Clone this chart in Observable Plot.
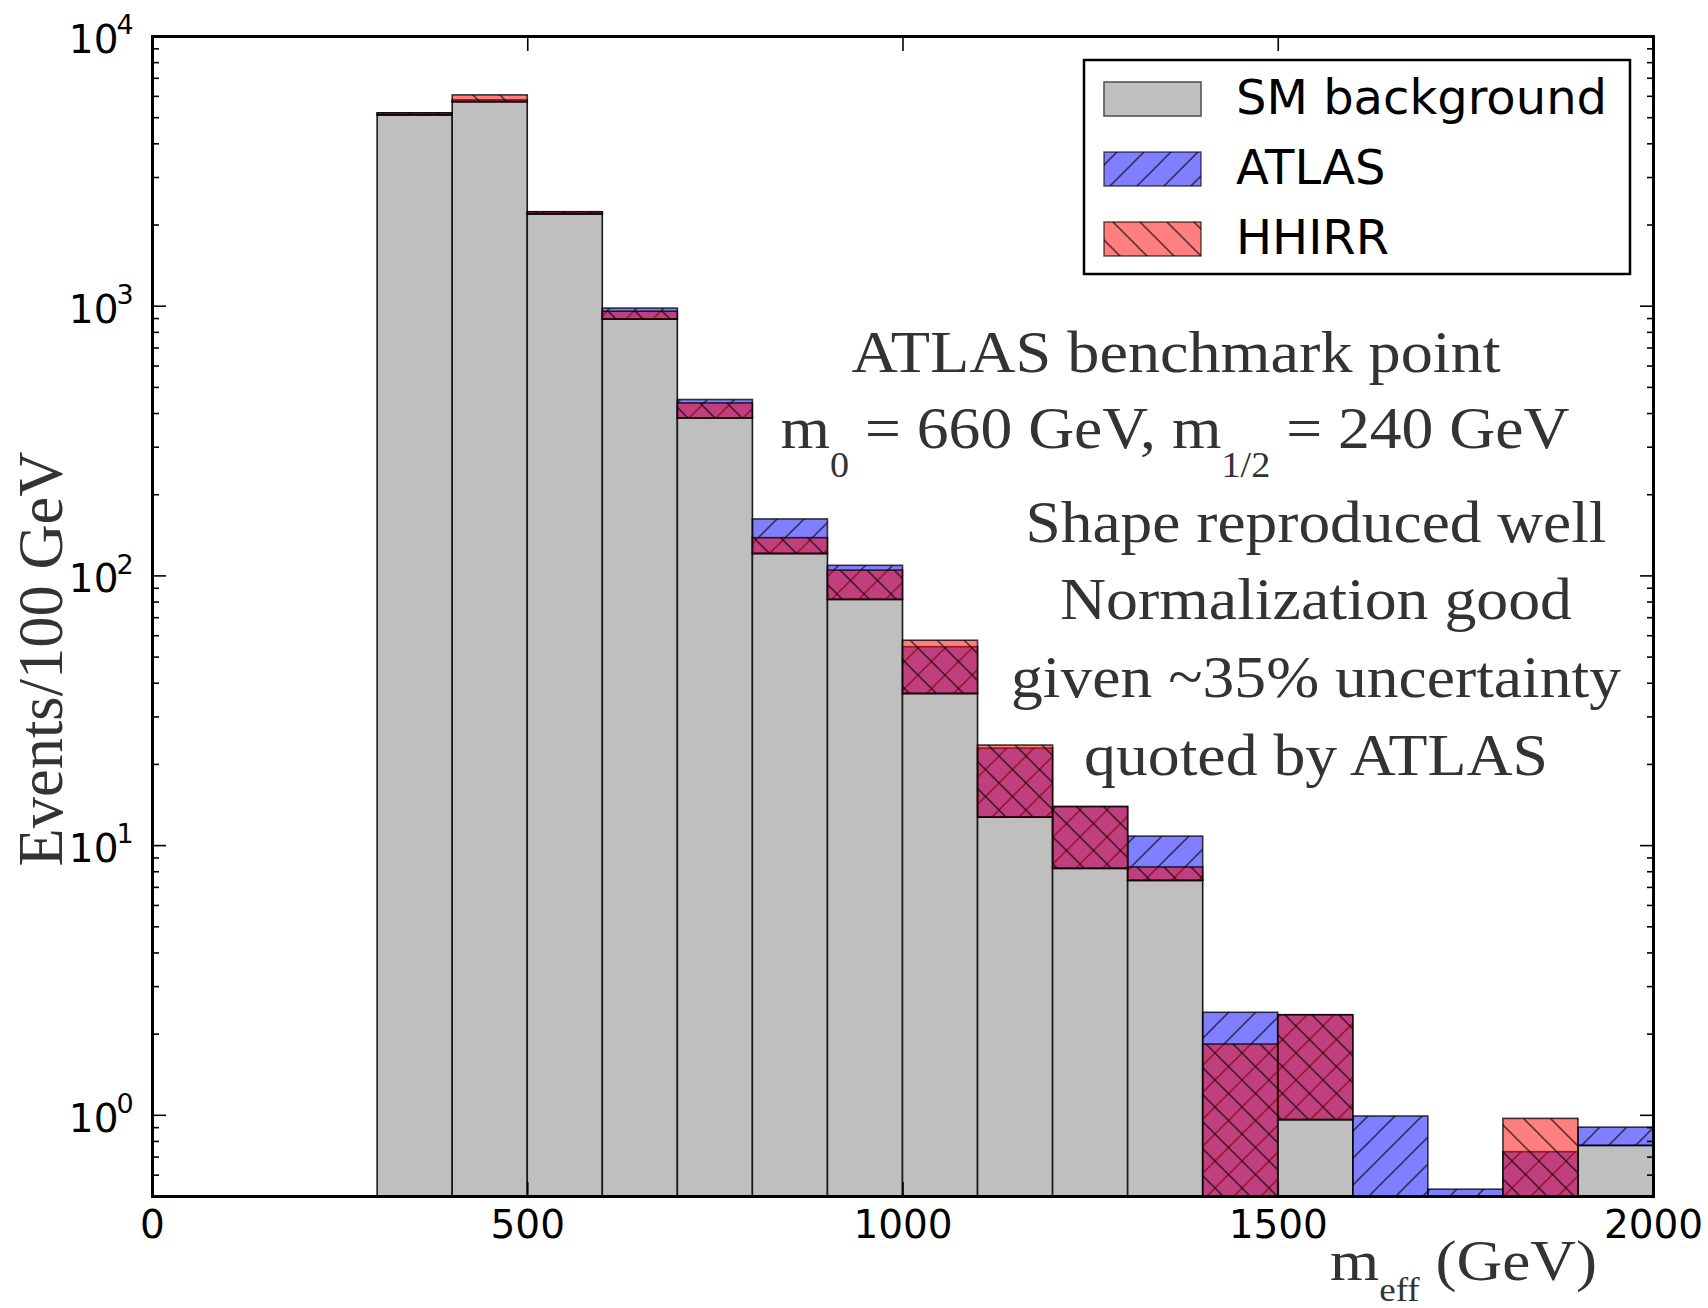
<!DOCTYPE html>
<html>
<head>
<meta charset="utf-8">
<script src="https://cdn.jsdelivr.net/npm/d3@7"></script>
<script src="https://cdn.jsdelivr.net/npm/@observablehq/plot@0.6"></script>
<style>
  html, body { margin: 0; padding: 0; background: #ffffff; }
  #chart { width: 1708px; height: 1308px; }
</style>
</head>
<body>
<div id="chart"></div>
<script>
// ---------------- data ----------------
const binStart = [300, 400, 500, 600, 700, 800, 900, 1000, 1100, 1200, 1300, 1400, 1500, 1600, 1700, 1800, 1900];
const binWidth = 100;
// Events / 100 GeV, SM background alone
const smBackground = [5100, 5710, 2190, 893, 384, 120.6, 81.5, 36.5, 12.7, 8.2, 7.4, 0, 0.96, 0, 0, 0, 0.77];
// top of SM + ATLAS signal
const atlasTotal   = [5190, 5800, 2230, 980, 449, 162, 109, 54.4, 22.9, 13.9, 10.8, 2.40, 2.35, 0.99, 0.53, 0.73, 0.90];
// top of SM + HHIRR signal
const hhirrTotal   = [5190, 6050, 2230, 954, 436, 138, 104.6, 57.5, 23.5, 13.9, 8.3, 1.83, 2.35, 0, 0, 0.97, 0];

const xTicks = [0, 500, 1000, 1500, 2000];
const yTickExponents = [0, 1, 2, 3, 4];
const legendLabels = ["SM background", "ATLAS", "HHIRR"];
const annotationTitle = "ATLAS benchmark point";
const annotationNotes = ["Shape reproduced well", "Normalization good", "given ~35% uncertainty", "quoted by ATLAS"];
const yLabel = "Events/100 GeV";

// ---------------- derived tables ----------------
const yMin = 0.5, yMax = 10000;
const yMajor = yTickExponents.map(e => 10 ** e);
const yMinor = [];
for (let e = -1; e <= 3; e++) for (let k = 2; k <= 9; k++) {
  const v = k * 10 ** e;
  if (v >= yMin && v <= yMax) yMinor.push(v);
}

const bins = binStart.map((x, i) => ({
  x1: x, x2: x + binWidth,
  sm: smBackground[i], atlas: atlasTotal[i], hhirr: hhirrTotal[i],
  base: Math.max(smBackground[i], yMin)
}));
const smBars = bins.filter(d => d.sm > yMin);
const atlasBars = bins.filter(d => d.atlas > d.base);
const hhirrBars = bins.filter(d => d.hhirr > d.base);

const tickStyle = {stroke: "#000", strokeWidth: 1.6, tickFormat: () => "", label: null};

const chart = Plot.plot({
  width: 1708,
  height: 1308,
  marginLeft: 152,
  marginRight: 55,
  marginTop: 36,
  marginBottom: 112,
  style: {background: "#ffffff", fontFamily: "DejaVu Sans", overflow: "visible"},
  x: {type: "linear", domain: [0, 2000]},
  y: {type: "log", domain: [yMin, yMax]},
  marks: [
    Plot.rect(smBars, {x1: "x1", x2: "x2", y1: () => yMin, y2: "sm", fill: "#bfbfbf", stroke: "#1a1a1a", strokeWidth: 1.6}),
    Plot.rect(atlasBars, {x1: "x1", x2: "x2", y1: "base", y2: "atlas", fill: "url(#hatch-atlas)", stroke: "#000", strokeOpacity: 0.75, strokeWidth: 1.6}),
    Plot.rect(hhirrBars, {x1: "x1", x2: "x2", y1: "base", y2: "hhirr", fill: "url(#hatch-hhirr)", stroke: "#000", strokeOpacity: 0.75, strokeWidth: 1.6}),
    Plot.axisY({anchor: "left", ticks: yMajor, tickSize: -14, ...tickStyle}),
    Plot.axisY({anchor: "left", ticks: yMinor, tickSize: -7, ...tickStyle}),
    Plot.axisY({anchor: "right", ticks: yMajor, tickSize: -14, ...tickStyle}),
    Plot.axisY({anchor: "right", ticks: yMinor, tickSize: -7, ...tickStyle}),
    Plot.axisX({anchor: "bottom", ticks: xTicks, tickSize: -14, ...tickStyle}),
    Plot.axisX({anchor: "top", ticks: xTicks, tickSize: -14, ...tickStyle}),
    // tick labels
    Plot.text(xTicks, {x: d => d, frameAnchor: "bottom", dy: 41, text: d => String(d), fontSize: 39, fill: "#000", fontFamily: "DejaVu Sans"}),
    Plot.text(yTickExponents, {y: e => 10 ** e, frameAnchor: "left", dx: -34, dy: 4, text: () => "10", textAnchor: "end", fontSize: 39, fill: "#000", fontFamily: "DejaVu Sans"}),
    Plot.text(yTickExponents, {y: e => 10 ** e, frameAnchor: "left", dx: -36, dy: -11, text: e => String(e), textAnchor: "start", fontSize: 27, fill: "#000", fontFamily: "DejaVu Sans"}),
    Plot.frame({stroke: "#000", strokeWidth: 3})
  ]
});

document.getElementById("chart").appendChild(chart);

// ---------------- hatch patterns ----------------
const svg = d3.select(chart);
const defs = svg.insert("defs", ":first-child");
function hatch(id, color, forward) {
  const s = 27;
  const p = defs.append("pattern").attr("id", id).attr("patternUnits", "userSpaceOnUse")
    .attr("width", s).attr("height", s);
  p.append("rect").attr("width", s).attr("height", s).attr("fill", color).attr("fill-opacity", 0.5);
  const d = forward
    ? `M${-s/4},${s/4} L${s/4},${-s/4} M0,${s} L${s},0 M${s*3/4},${s*5/4} L${s*5/4},${s*3/4}`
    : `M${-s/4},${s*3/4} L${s/4},${s*5/4} M0,0 L${s},${s} M${s*3/4},${-s/4} L${s*5/4},${s/4}`;
  p.append("path").attr("d", d).attr("stroke", "#000").attr("stroke-opacity", 0.6).attr("stroke-width", 1.6).attr("fill", "none");
}
hatch("hatch-atlas", "#0000ff", true);
hatch("hatch-hhirr", "#ff0000", false);

// ---------------- legend ----------------
const lg = svg.append("g").attr("text-anchor", "start");
lg.append("rect").attr("x", 1084).attr("y", 60).attr("width", 546).attr("height", 214)
  .attr("fill", "#fff").attr("stroke", "#000").attr("stroke-width", 2.5);
const legendFills = ["#bfbfbf", "url(#hatch-atlas)", "url(#hatch-hhirr)"];
legendLabels.forEach((lab, i) => {
  const y0 = 82 + i * 70;
  lg.append("rect").attr("x", 1104).attr("y", y0).attr("width", 97).attr("height", 34)
    .attr("fill", legendFills[i]).attr("stroke", i === 0 ? "#555" : "#000").attr("stroke-opacity", i === 0 ? 1 : 0.6).attr("stroke-width", 1.6);
  lg.append("text").attr("x", 1236).attr("y", y0 + 32).attr("text-anchor", "start").attr("font-family", "DejaVu Sans")
    .attr("font-size", 48).attr("fill", "#000").text(lab);
});

// ---------------- annotations ----------------
const serif = "Liberation Serif, Times New Roman, serif";
const ann = svg.append("g").attr("font-family", serif).attr("fill", "#333333");
ann.append("text").attr("x", 1176).attr("y", 372).attr("text-anchor", "middle").attr("font-size", 60)
  .attr("textLength", 649).attr("lengthAdjust", "spacingAndGlyphs").text(annotationTitle);

const l2 = ann.append("text").attr("x", 1175).attr("y", 448).attr("text-anchor", "middle").attr("font-size", 60)
  .attr("textLength", 789).attr("lengthAdjust", "spacingAndGlyphs");
l2.append("tspan").text("m");
l2.append("tspan").attr("dy", 29).attr("font-size", 36).text("0");
l2.append("tspan").attr("dy", -29).text(" = 660 GeV, m");
l2.append("tspan").attr("dy", 29).attr("font-size", 36).text("1/2");
l2.append("tspan").attr("dy", -29).text(" = 240 GeV");

const noteBaselines = [542, 619, 697, 775];
const noteWidths = [581, 512, 610, 464];
annotationNotes.forEach((t, i) => {
  ann.append("text").attr("x", 1316).attr("y", noteBaselines[i]).attr("text-anchor", "middle")
    .attr("font-size", 60).attr("textLength", noteWidths[i]).attr("lengthAdjust", "spacingAndGlyphs").text(t);
});

// ---------------- axis titles ----------------
const xl = svg.append("text").attr("x", 1330).attr("y", 1280).attr("text-anchor", "start")
  .attr("font-family", serif).attr("fill", "#333333")
  .attr("font-size", 58).attr("textLength", 267).attr("lengthAdjust", "spacingAndGlyphs");
xl.append("tspan").text("m");
xl.append("tspan").attr("dy", 21).attr("font-size", 34).text("eff");
xl.append("tspan").attr("dy", -21).text(" (GeV)");

svg.append("text").attr("transform", "translate(62,659) rotate(-90)").attr("text-anchor", "middle")
  .attr("font-family", serif).attr("fill", "#333333").attr("font-size", 64)
  .attr("textLength", 415).attr("lengthAdjust", "spacingAndGlyphs").text(yLabel);
</script>
</body>
</html>
